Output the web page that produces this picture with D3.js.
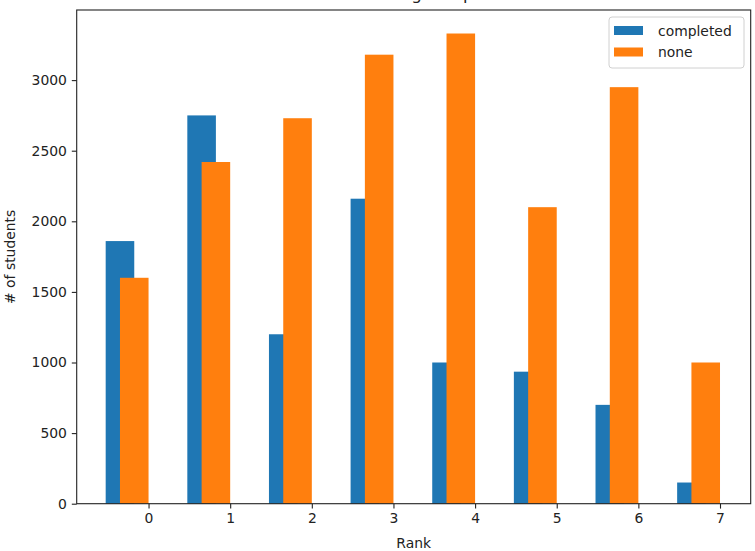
<!DOCTYPE html>
<html>
<head>
<meta charset="utf-8">
<script src="https://cdn.jsdelivr.net/npm/d3@7"></script>
<style>
  body { margin: 0; background: #fff; }
  text { font-family: "DejaVu Sans", sans-serif; fill: #222; }
</style>
</head>
<body>
<svg id="chart"></svg>
<script>
// ranks 0..7, students per rank
const ranks = [0, 1, 2, 3, 4, 5, 6, 7];
const completed = [1860, 2750, 1200, 2160, 1000, 935, 700, 150];
const none = [1600, 2420, 2730, 3180, 3330, 2100, 2950, 1000];
const yTicks = [0, 500, 1000, 1500, 2000, 2500, 3000];
const seriesNames = ['completed', 'none'];

const width = 755;
const height = 551;
const margin = {top: 10, right: 4.3, bottom: 47.3, left: 76.7};
const barW = 0.35;

const svg = d3.select('#chart')
    .attr('width', width)
    .attr('height', height);

const x = d3.scaleLinear()
    .domain([-0.88, 7.376])
    .range([margin.left, width - margin.right]);

const yMax = d3.max(none.concat(completed)) * 1.05;
const y = d3.scaleLinear()
    .domain([0, yMax])
    .range([height - margin.bottom, margin.top]);

const colors = {completed: '#1f77b4', none: '#ff7f0e'};

// title sits above the visible area, like in the screenshot
svg.append('text')
    .attr('x', (margin.left + width - margin.right) / 2)
    .attr('y', -0.3)
    .attr('text-anchor', 'middle')
    .style('font-size', '16.7px')
    .text('Test Ranking compared');

// completed bars: centred at rank - 0.35
svg.selectAll('rect.completed')
    .data(ranks)
    .enter()
    .append('rect')
    .attr('class', 'completed')
    .attr('x', d => x(d - barW - barW / 2))
    .attr('width', x(barW) - x(0))
    .attr('y', (d, i) => y(completed[i]))
    .attr('height', (d, i) => y(0) - y(completed[i]))
    .attr('fill', colors.completed);

// none bars: centred at rank - 0.175
svg.selectAll('rect.none')
    .data(ranks)
    .enter()
    .append('rect')
    .attr('class', 'none')
    .attr('x', d => x(d - barW))
    .attr('width', x(barW) - x(0))
    .attr('y', (d, i) => y(none[i]))
    .attr('height', (d, i) => y(0) - y(none[i]))
    .attr('fill', colors.none);

// axes
const xAxis = svg.append('g')
    .attr('transform', 'translate(0,' + y(0) + ')')
    .call(d3.axisBottom(x).tickValues(ranks).tickSize(4.9).tickPadding(4.9).tickFormat(d3.format('d')));

const yAxis = svg.append('g')
    .attr('transform', 'translate(' + margin.left + ',0)')
    .call(d3.axisLeft(y).tickValues(yTicks).tickSize(4.9).tickPadding(4.9).tickFormat(d3.format('d')));

[xAxis, yAxis].forEach(g => {
    g.select('.domain').remove();
    g.selectAll('line').attr('stroke', '#222').attr('stroke-width', 1.1);
    g.selectAll('text').style('font-size', '13.9px').attr('fill', '#222');
});

// frame
svg.append('rect')
    .attr('x', margin.left)
    .attr('y', margin.top)
    .attr('width', width - margin.right - margin.left)
    .attr('height', height - margin.bottom - margin.top)
    .attr('fill', 'none')
    .attr('stroke', '#222')
    .attr('stroke-width', 1.1);

// axis labels
svg.append('text')
    .attr('x', (margin.left + width - margin.right) / 2)
    .attr('y', 548)
    .attr('text-anchor', 'middle')
    .style('font-size', '13.9px')
    .text('Rank');

svg.append('text')
    .attr('transform', 'translate(15,' + (margin.top + height - margin.bottom) / 2 + ') rotate(-90)')
    .attr('text-anchor', 'middle')
    .style('font-size', '13.9px')
    .text('# of students');

// legend
const legend = svg.append('g').attr('transform', 'translate(609,17)');
legend.append('rect')
    .attr('width', 135)
    .attr('height', 51)
    .attr('rx', 3)
    .attr('fill', 'white')
    .attr('fill-opacity', 0.8)
    .attr('stroke', '#d0d0d0');

seriesNames.forEach((name, i) => {
    legend.append('rect')
        .attr('x', 5)
        .attr('y', 9 + i * 21.5)
        .attr('width', 29)
        .attr('height', 9)
        .attr('fill', colors[name]);
    legend.append('text')
        .attr('x', 49)
        .attr('y', 18.5 + i * 21.5)
        .style('font-size', '13.9px')
        .text(name);
});
</script>
</body>
</html>
